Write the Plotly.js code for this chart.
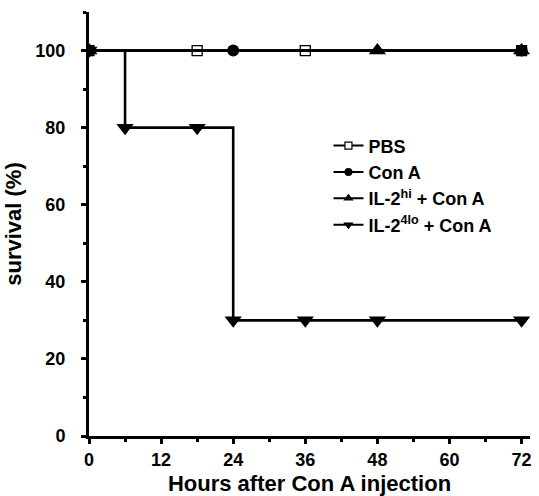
<!DOCTYPE html>
<html><head><meta charset="utf-8">
<script src="https://cdn.plot.ly/plotly-3.0.1.min.js"></script>
<style>body{margin:0;background:#fff}#c{width:539px;height:496px}</style>
</head><body><div id="c"></div>
<script>
const pbsX = [0, 18, 36, 72];
const pbsY = [100, 100, 100, 100];
const conaX = [0, 24, 72];
const conaY = [100, 100, 100];
const hiX = [0, 48, 72];
const hiY = [100, 100, 100];
const loX = [0, 6, 18, 24, 36, 48, 72];
const loY = [100, 80, 80, 30, 30, 30, 30];
const names = ['PBS', 'Con A', 'IL-2<sup>hi</sup> + Con A', 'IL-2<sup>4lo</sup> + Con A'];
const xTicks = [0, 12, 24, 36, 48, 60, 72];
const yTicks = [0, 20, 40, 60, 80, 100];

const F = 'Liberation Sans, Arial, sans-serif';
const lineStyle = {color: '#000', width: 2.6, shape: 'hv'};
const symbols = ['square-open', 'circle', 'triangle-up', 'triangle-down'];
const plotSizes = [10, 12, 15, 15];
const legSizes = [7, 8, 9, 9];
const xs = [pbsX, conaX, hiX, loX];
const ys = [pbsY, conaY, hiY, loY];

const traces = [];
for (let i = 0; i < 4; i++) {
  traces.push({x: xs[i], y: ys[i], name: names[i], mode: 'lines+markers', line: lineStyle, showlegend: false,
    marker: {symbol: symbols[i], size: plotSizes[i], color: '#000',
             line: {width: i === 0 ? 1.3 : 0, color: '#000'}}});
}
// legend proxies (no points drawn)
for (let i = 0; i < 4; i++) {
  traces.push({x: [null], y: [null], name: names[i], mode: 'lines+markers',
    line: {color: '#000', width: 2}, showlegend: true,
    marker: {symbol: i === 0 ? 'square' : symbols[i], size: legSizes[i], color: i === 0 ? '#fff' : '#000',
             line: {width: i === 0 ? 1.2 : 0, color: '#000'}}});
}
const layout = {
  width: 539, height: 496,
  margin: {l: 89, r: 9, t: 12, b: 60},
  paper_bgcolor: '#fff', plot_bgcolor: '#fff',
  font: {family: F, color: '#000', size: 18, weight: 'bold'},
  showlegend: true,
  legend: {x: 0.543, y: 0.728, xanchor: 'left', yanchor: 'top', bgcolor: 'rgba(0,0,0,0)',
           font: {family: F, size: 18, weight: 'bold', color: '#000'}, tracegroupgap: 0},
  xaxis: {
    range: [0, 73.4], tickvals: xTicks, ticktext: xTicks.map(String),
    showgrid: false, zeroline: false, showline: true, linewidth: 3, linecolor: '#000',
    ticks: 'outside', ticklen: 5, tickwidth: 3, tickcolor: '#000', ticklabelstandoff: 0,
    minor: {dtick: 6, tick0: 0, ticks: 'outside', ticklen: 3, tickwidth: 3, tickcolor: '#000', showgrid: false},
    tickfont: {family: F, size: 18, weight: 'bold'},
    title: {text: 'Hours after Con A injection', font: {family: F, size: 22, weight: 'bold'}, standoff: 11}
  },
  yaxis: {
    range: [0, 110], tickvals: yTicks, ticktext: yTicks.map(String),
    showgrid: false, zeroline: false, showline: true, linewidth: 3, linecolor: '#000',
    ticks: 'outside', ticklen: 5, tickwidth: 3, tickcolor: '#000', ticklabelstandoff: 12,
    minor: {dtick: 10, tick0: 0, ticks: 'outside', ticklen: 3, tickwidth: 3, tickcolor: '#000', showgrid: false},
    tickfont: {family: F, size: 18, weight: 'bold'},
    title: {text: 'survival (%)', font: {family: F, size: 22, weight: 'bold'}, standoff: 8}
  }
};
Plotly.newPlot('c', traces, layout, {staticPlot: true, displayModeBar: false});
</script></body></html>
